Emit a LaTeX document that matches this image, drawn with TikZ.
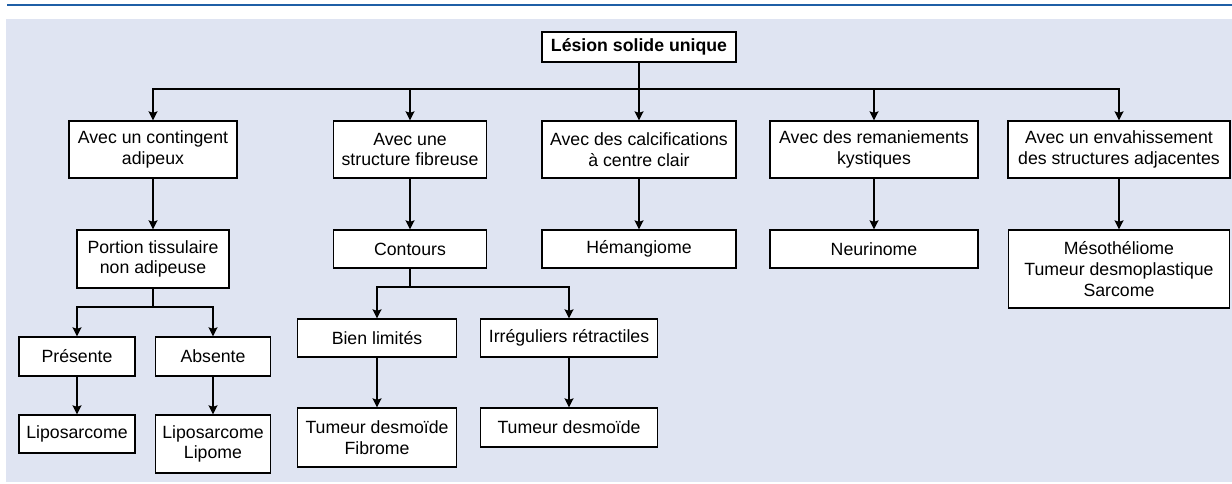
\documentclass[tikz,border=0pt]{standalone}
\usepackage{fontspec}
\setmainfont{Liberation Sans}
\usepackage{xcolor}
\usepackage{tikz}
\usetikzlibrary{arrows.meta}
\definecolor{panel}{HTML}{DFE4F2}
\definecolor{rulebl}{HTML}{1F5FA6}

\begin{document}
\begin{tikzpicture}[x=1pt,y=-1pt,
  every node/.style={font=\fontsize{17.7}{20.7}\selectfont},
  box/.style={draw,fill=white,line width=1.3pt,inner sep=0pt,align=center},
  size/.style 2 args={minimum width=#1pt,minimum height=#2pt},
  edge/.style={-{Stealth[length=9pt,width=9pt,inset=1.5pt]},line width=1.5pt},
  link/.style={line width=1.5pt}]
\useasboundingbox (0,0) rectangle (1232,483);
\fill[panel] (6,19) rectangle (1232,482);
\draw[rulebl,line width=2.6pt] (7,5) -- (1232,5);
% root
\node[box,size={194}{30}] (root) at (639,47) {\textbf{Lésion solide unique}};
% first level
\node[box,size={168}{57}] (a1) at (153,149.5) {Avec un contingent\\adipeux};
\node[box,size={153}{57}] (a2) at (410,149.5) {Avec une\\structure fibreuse};
\node[box,size={194}{57}] (a3) at (639,149.5) {Avec des calcifications\\à centre clair};
\node[box,size={208}{57}] (a4) at (874,149.5) {Avec des remaniements\\kystiques};
\node[box,size={222}{57}] (a5) at (1119,149.5) {Avec un envahissement\\des structures adjacentes};
% second level
\node[box,size={152}{58}] (b1) at (153,259) {Portion tissulaire\\non adipeuse};
\node[box,size={153}{38}] (b2) at (410,249) {Contours};
\node[box,size={194}{38}] (b3) at (639,249) {Hémangiome};
\node[box,size={208}{38}] (b4) at (874,249) {Neurinome};
\node[box,size={221}{78}] (b5) at (1119,269) {Mésothéliome\\Tumeur desmoplastique\\Sarcome};
% third level
\node[box,size={116}{39}] (c1) at (77,356.5) {Présente};
\node[box,size={115}{39}] (c2) at (213,356.5) {Absente};
\node[box,size={159}{38}] (c3) at (377,338) {Bien limités};
\node[box,size={177}{38}] (c4) at (569,338) {Irréguliers rétractiles};
% fourth level
\node[box,size={116}{38}] (d1) at (77,434) {Liposarcome};
\node[box,size={115}{58}] (d2) at (213,444) {Liposarcome\\Lipome};
\node[box,size={159}{59}] (d3) at (377,437.5) {Tumeur desmoïde\\Fibrome};
\node[box,size={177}{39}] (d4) at (569,427.5) {Tumeur desmoïde};
% connectors
\coordinate (bus) at (639,89);
\coordinate (s1) at (153,307);
\coordinate (s2) at (410,287);
\draw[edge] (root) -- (a3);
\foreach \n in {a1,a2,a4,a5}
  \draw[edge] (bus) -| (\n);
\foreach \i in {1,...,5}
  \draw[edge] (a\i) -- (b\i);
\draw[link] (b1) -- (s1);
\draw[edge] (s1) -| (c1);
\draw[edge] (s1) -| (c2);
\draw[link] (b2) -- (s2);
\draw[edge] (s2) -| (c3);
\draw[edge] (s2) -| (c4);
\foreach \i in {1,...,4}
  \draw[edge] (c\i) -- (d\i);
\end{tikzpicture}
\end{document}
